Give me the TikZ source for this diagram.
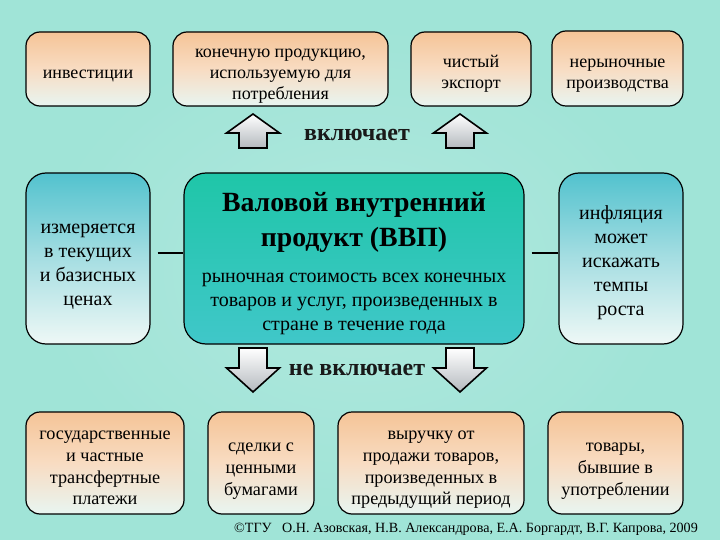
\documentclass[tikz,border=0pt]{standalone}
\usepackage{fontspec}
\setmainfont{Liberation Serif}
\newfontfamily\tms{Liberation Serif}
\definecolor{bgc}{HTML}{A0E4D7}
\definecolor{peachT}{HTML}{F5C497}
\definecolor{peachM}{HTML}{F8DCC2}
\definecolor{peachB}{HTML}{E8F5F1}
\definecolor{tealT}{HTML}{1FC6A8}
\definecolor{tealB}{HTML}{40C7C9}
\definecolor{sideT}{HTML}{52C2CE}
\definecolor{sideM}{HTML}{A6DEE2}
\definecolor{sideB}{HTML}{EEF8F6}
\definecolor{arrB}{HTML}{B4B9BE}
\newcommand\lowtext[2]{\raisebox{-#1}[\height][\depth]{\begin{tabular}{@{}c@{}}#2\end{tabular}}}
\tikzset{
  obox/.style={draw=black, line width=1.2pt, rounded corners=14pt,
    top color=peachT, bottom color=peachB, middle color=peachM, inner sep=2pt},
  sbox/.style={draw=black, line width=1.2pt, rounded corners=20pt,
    top color=sideT, bottom color=sideB, middle color=sideM, inner sep=2pt},
  mbox/.style={draw=black, line width=1.2pt, rounded corners=22pt,
    top color=tealT, bottom color=tealB, inner sep=2pt},
  toptxt/.style={font=\tms\fontsize{18}{21}\selectfont},
  sidetxt/.style={font=\tms\fontsize{20}{24}\selectfont},
  bottxt/.style={font=\tms\fontsize{18.2}{21.7}\selectfont},
  conn/.style={line width=2pt, shorten <=7pt},
  blockarrow/.style={draw=black, line width=1.6pt, line join=miter,
    top color=white, bottom color=arrB},
  lbl/.style={font=\tms\fontsize{24}{28}\selectfont\bfseries, text=black!90},
  uparr/.pic={\path[blockarrow] (0,0) -- (26.5,19) -- (14,19) -- (14,34) -- (-14,34) -- (-14,19) -- (-26.5,19) -- cycle;},
  downarr/.pic={\path[blockarrow] (0,0) -- (26.5,-24) -- (14,-24) -- (14,-44) -- (-14,-44) -- (-14,-24) -- (-26.5,-24) -- cycle;}
}
\begin{document}
\begin{tikzpicture}[x=1pt,y=-1pt]
\fill[bgc] (0,0) rectangle (720,540);
\useasboundingbox (0,0) rectangle (720,540);
\shade[inner color=bgc!70!white, outer color=bgc, opacity=0.6] (360,270) ellipse (330 and 250);

% top row
\node[obox, toptxt, minimum width=124pt, minimum height=74pt] (inv) at (88,69) {\lowtext{5pt}{инвестиции}};
\node[obox, toptxt, minimum width=215pt, minimum height=74pt] (cons) at (280.5,69) {\lowtext{5pt}{конечную продукцию,\\ используемую для\\ потребления}};
\node[obox, toptxt, minimum width=120pt, minimum height=74pt] (exp) at (471,69) {\lowtext{5pt}{чистый\\ экспорт}};
\node[obox, toptxt, minimum width=131pt, minimum height=75pt] (nonm) at (617.5,68.5) {\lowtext{5pt}{нерыночные\\ производства}};

% arrows up + label
\pic at (253,114) {uparr};
\pic at (460,114) {uparr};
\node[lbl] (incl) at (357,135) {включает};

% middle row
\node[sbox, sidetxt, minimum width=124pt, minimum height=171pt] (meas) at (88,258.5) {\lowtext{6pt}{измеряется\\ в текущих\\ и базисных\\ ценах}};
\node[mbox, minimum width=340pt, minimum height=171pt, font=\tms] (gdp) at (354,258.5) {\raisebox{-5pt}[\height][\depth]{\parbox{336pt}{\centering
  {\fontsize{27.8}{35}\selectfont\bfseries Валовой внутренний\\ продукт (ВВП)\par}\vspace{12pt}
  \fontsize{20}{24}\selectfont рыночная стоимость всех конечных\\ товаров и услуг, произведенных в\\ стране в течение года\par}}};
\node[sbox, sidetxt, minimum width=124pt, minimum height=171pt] (infl) at (621,258.5) {\lowtext{4pt}{инфляция\\ может\\ искажать\\ темпы\\ роста}};

\draw[conn] ([yshift=6pt]meas.east) -- ([yshift=6pt]gdp.west);
\draw[conn] ([yshift=6pt]gdp.east) -- ([yshift=6pt]infl.west);

% arrows down + label
\pic at (253,392) {downarr};
\pic at (460,392) {downarr};
\node[lbl] (notincl) at (357,370) {не включает};

% bottom row
\node[obox, bottxt, minimum width=158pt, minimum height=102pt] (gov) at (105,463) {\lowtext{5pt}{государственные\\ и частные\\ трансфертные\\ платежи}};
\node[obox, bottxt, minimum width=106pt, minimum height=102pt] (deal) at (261,463) {\lowtext{6pt}{сделки с\\ ценными\\ бумагами}};
\node[obox, bottxt, minimum width=186pt, minimum height=102pt] (rev) at (431,463) {\lowtext{5pt}{выручку от\\ продажи товаров,\\ произведенных в\\ предыдущий период}};
\node[obox, bottxt, minimum width=135pt, minimum height=102pt] (used) at (615.5,463) {\lowtext{6pt}{товары,\\ бывшие в\\ употреблении}};

% footer
\node[font=\tms\fontsize{14.1}{16}\selectfont] (foot) at (466,529) {©ТГУ\ \ \ О.Н. Азовская, Н.В. Александрова, Е.А. Боргардт, В.Г. Капрова, 2009};
\end{tikzpicture}
\end{document}
